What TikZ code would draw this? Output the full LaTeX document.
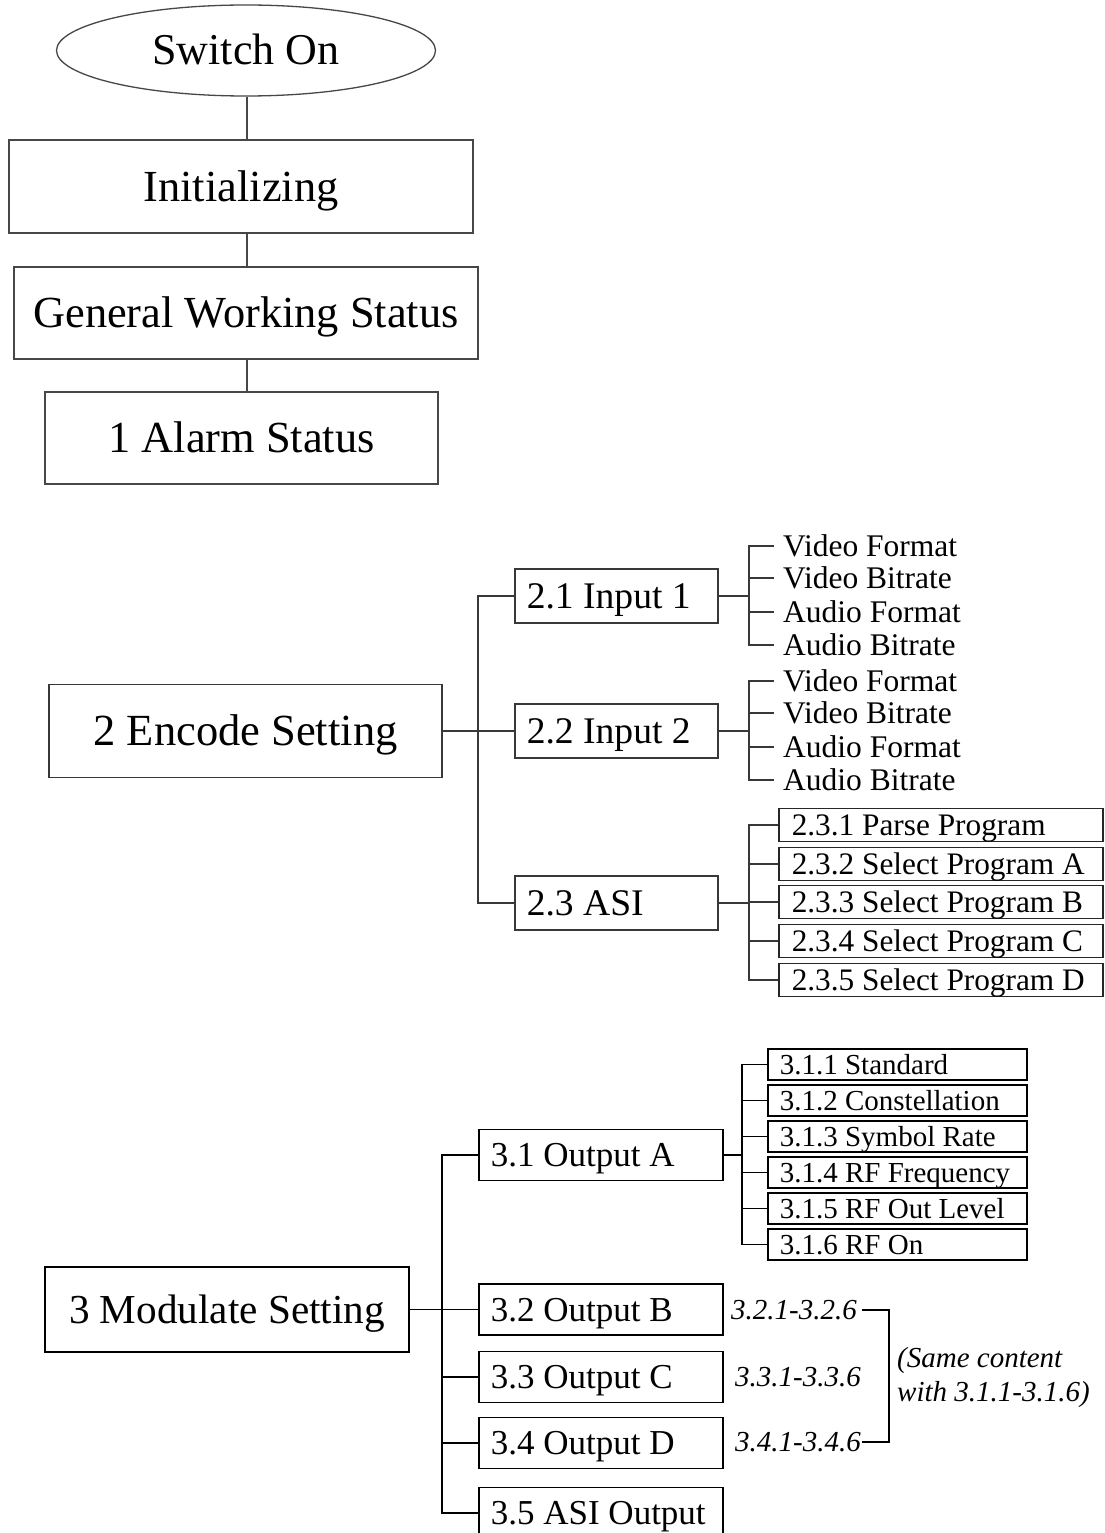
\documentclass[tikz,border=0pt]{standalone}
\usepackage{fontspec}
\setmainfont{Liberation Serif}
\usetikzlibrary{shapes.geometric}

% left-aligned label of fixed width inside a box
\newcommand\lefttext[1]{\makebox[\boxtextwidth][l]{#1}}
\newcommand\boxtextwidth{0pt}

\begin{document}
\begin{tikzpicture}[
  x=1pt, y=-1pt,
  % connector styles
  topln/.style={line width=1.3pt, draw=black!72},
  encln/.style={line width=1.5pt, draw=black!78},
  modln/.style={line width=1.7pt, draw=black},
  % boxes and texts
  mainbox/.style={draw=black!72, line width=1.3pt, rectangle, inner sep=0pt,
                  text height=29.3pt, text depth=0pt,
                  font=\fontsize{44.4}{50}\selectfont},
  startnode/.style={draw=black!72, line width=1.3pt, ellipse, inner sep=0pt,
                  text height=29pt, text depth=0pt,
                  minimum width=379pt, minimum height=91pt,
                  font=\fontsize{44}{50}\selectfont},
  encbox/.style={draw=black!78, line width=1.5pt, rectangle, inner sep=0pt,
                  text height=29.4pt, text depth=0pt,
                  font=\fontsize{44.5}{50}\selectfont},
  inbox/.style={draw=black!78, line width=1.5pt, rectangle, anchor=west,
                inner xsep=12pt, inner ysep=0pt, minimum height=54pt,
                text height=24.8pt, text depth=0pt,
                execute at begin node={\renewcommand\boxtextwidth{179pt}},
                font=\fontsize{37.6}{42}\selectfont},
  asibox/.style={draw=black!85, line width=1.5pt, rectangle, anchor=west,
                inner xsep=13pt, inner ysep=0pt, minimum height=33pt,
                text height=20.7pt, text depth=0pt,
                execute at begin node={\renewcommand\boxtextwidth{298pt}},
                font=\fontsize{31.3}{36}\selectfont},
  itemtxt/.style={anchor=west, inner sep=0pt, text height=20.8pt, text depth=0pt,
                font=\fontsize{31.5}{36}\selectfont},
  modbox/.style={draw=black, line width=1.7pt, rectangle, inner sep=0pt,
                text height=27.2pt, text depth=0pt,
                font=\fontsize{41.2}{46}\selectfont},
  outbox/.style={draw=black, line width=1.7pt, rectangle, anchor=west,
                inner xsep=12pt, inner ysep=0pt, minimum height=51pt,
                text height=23.1pt, text depth=0pt,
                execute at begin node={\renewcommand\boxtextwidth{220pt}},
                font=\fontsize{35}{40}\selectfont},
  parbox/.style={draw=black, line width=1.7pt, rectangle, anchor=west,
                inner xsep=12pt, inner ysep=0pt, minimum height=31pt,
                text height=19.1pt, text depth=0pt,
                execute at begin node={\renewcommand\boxtextwidth{235pt}},
                font=\fontsize{29}{34}\selectfont},
  rangetxt/.style={anchor=west, inner sep=0pt, text height=19.1pt, text depth=0pt,
                font=\fontsize{29}{34}\selectfont\itshape},
  notetxt/.style={anchor=base west, inner sep=0pt, font=\fontsize{29}{34}\selectfont\itshape},
]

\fill[white] (0,0) rectangle (1104,1533);
\useasboundingbox (0,0) rectangle (1104,1533);

% ---------------- start-up sequence ----------------
\node[startnode] (sw) at (246,50.5) {Switch On};
\node[mainbox, minimum width=464pt, minimum height=93pt] (init) at (241,186.5) {Initializing};
\node[mainbox, minimum width=464pt, minimum height=92pt] (gen) at (246,313) {General Working Status};
\node[mainbox, minimum width=393pt, minimum height=92pt] (alarm) at (241.5,438) {1 Alarm Status};

\coordinate (spine) at (247,0);
\draw[topln] (sw.south -| spine) -- (init.north -| spine);
\draw[topln] (init.south -| spine) -- (gen.north -| spine);
\draw[topln] (gen.south -| spine) -- (alarm.north -| spine);

% ---------------- 2 Encode Setting ----------------
\node[encbox, minimum width=393pt, minimum height=93pt] (enc) at (245.5,731) {2 Encode Setting};
\node[inbox] (in1) at (514,596) {\lefttext{2.1 Input 1}};
\node[inbox] (in2) at (514,731) {\lefttext{2.2 Input 2}};
\node[inbox] (asi) at (514,903) {\lefttext{2.3 ASI}};

\coordinate (ebus) at (478,731);
\draw[encln] (enc.east) -- (in2.west);
\draw[encln] (in1.west) -| (ebus) |- (asi.west);

% input 1 parameters
\node[itemtxt] (vf1) at (783,546) {Video Format};
\node[itemtxt] (vb1) at (783,578) {Video Bitrate};
\node[itemtxt] (af1) at (783,612) {Audio Format};
\node[itemtxt] (ab1) at (783,645) {Audio Bitrate};
\coordinate (sb1) at (749,596);
\draw[encln] (in1.east) -- (sb1);
\draw[encln] ([xshift=-9pt]vf1.west) -| (sb1) |- ([xshift=-9pt]ab1.west);
\draw[encln] ([xshift=-9pt]vb1.west) -- (vb1.west -| sb1);
\draw[encln] ([xshift=-9pt]af1.west) -- (af1.west -| sb1);

% input 2 parameters
\node[itemtxt] (vf2) at (783,681) {Video Format};
\node[itemtxt] (vb2) at (783,713) {Video Bitrate};
\node[itemtxt] (af2) at (783,747) {Audio Format};
\node[itemtxt] (ab2) at (783,780) {Audio Bitrate};
\coordinate (sb2) at (749,731);
\draw[encln] (in2.east) -- (sb2);
\draw[encln] ([xshift=-9pt]vf2.west) -| (sb2) |- ([xshift=-9pt]ab2.west);
\draw[encln] ([xshift=-9pt]vb2.west) -- (vb2.west -| sb2);
\draw[encln] ([xshift=-9pt]af2.west) -- (af2.west -| sb2);

% ASI programs
\node[asibox] (p1) at (778,825) {\lefttext{2.3.1 Parse Program}};
\node[asibox] (p2) at (778,864) {\lefttext{2.3.2 Select Program A}};
\node[asibox] (p3) at (778,902) {\lefttext{2.3.3 Select Program B}};
\node[asibox] (p4) at (778,941) {\lefttext{2.3.4 Select Program C}};
\node[asibox] (p5) at (778,980) {\lefttext{2.3.5 Select Program D}};
\coordinate (sb3) at (749,903);
\draw[encln] (asi.east) -- (sb3);
\draw[encln] (p1.west) -| (sb3) |- (p5.west);
\draw[encln] (p2.west) -- (p2.west -| sb3);
\draw[encln] (p3.west) -- (p3.west -| sb3);
\draw[encln] (p4.west) -- (p4.west -| sb3);

% ---------------- 3 Modulate Setting ----------------
\node[modbox, minimum width=364pt, minimum height=85pt] (mod) at (227,1309.5) {3 Modulate Setting};
\node[outbox] (oa) at (478,1155) {\lefttext{3.1 Output A}};
\node[outbox] (ob) at (478,1309.5) {\lefttext{3.2 Output B}};
\node[outbox] (oc) at (478,1377) {\lefttext{3.3 Output C}};
\node[outbox] (od) at (478,1443) {\lefttext{3.4 Output D}};
\node[outbox] (oe) at (478,1513) {\lefttext{3.5 ASI Output}};

\coordinate (mbus) at (442,1309.5);
\draw[modln] (mod.east) -- (ob.west);
\draw[modln] (oa.west) -| (mbus) |- (oe.west);
\draw[modln] (oc.west) -- (oc.west -| mbus);
\draw[modln] (od.west) -- (od.west -| mbus);

% output A parameters
\node[parbox] (s1) at (767,1064.5) {\lefttext{3.1.1 Standard}};
\node[parbox] (s2) at (767,1100.5) {\lefttext{3.1.2 Constellation}};
\node[parbox] (s3) at (767,1136.5) {\lefttext{3.1.3 Symbol Rate}};
\node[parbox] (s4) at (767,1172.5) {\lefttext{3.1.4 RF Frequency}};
\node[parbox] (s5) at (767,1208.5) {\lefttext{3.1.5 RF Out Level}};
\node[parbox] (s6) at (767,1244.5) {\lefttext{3.1.6 RF On}};
\coordinate (sba) at (742,1155);
\draw[modln] (oa.east) -- (sba);
\draw[modln] (s1.west) -| (sba) |- (s6.west);
\draw[modln] (s2.west) -- (s2.west -| sba);
\draw[modln] (s3.west) -- (s3.west -| sba);
\draw[modln] (s4.west) -- (s4.west -| sba);
\draw[modln] (s5.west) -- (s5.west -| sba);

% outputs B to D share the parameter list of output A
\node[rangetxt] (rb) at (731,1310) {3.2.1-3.2.6};
\node[rangetxt] (rc) at (735,1377) {3.3.1-3.3.6};
\node[rangetxt] (rd) at (735,1442) {3.4.1-3.4.6};
\coordinate (brk) at (889,1376);
\draw[modln] ([xshift=5pt]rb.east) -| (brk) |- ([xshift=1pt]rd.east);
\node[notetxt] (note1) at (897,1367) {(Same content};
\node[notetxt] (note2) at (897,1401) {with 3.1.1-3.1.6)};

\end{tikzpicture}
\end{document}
